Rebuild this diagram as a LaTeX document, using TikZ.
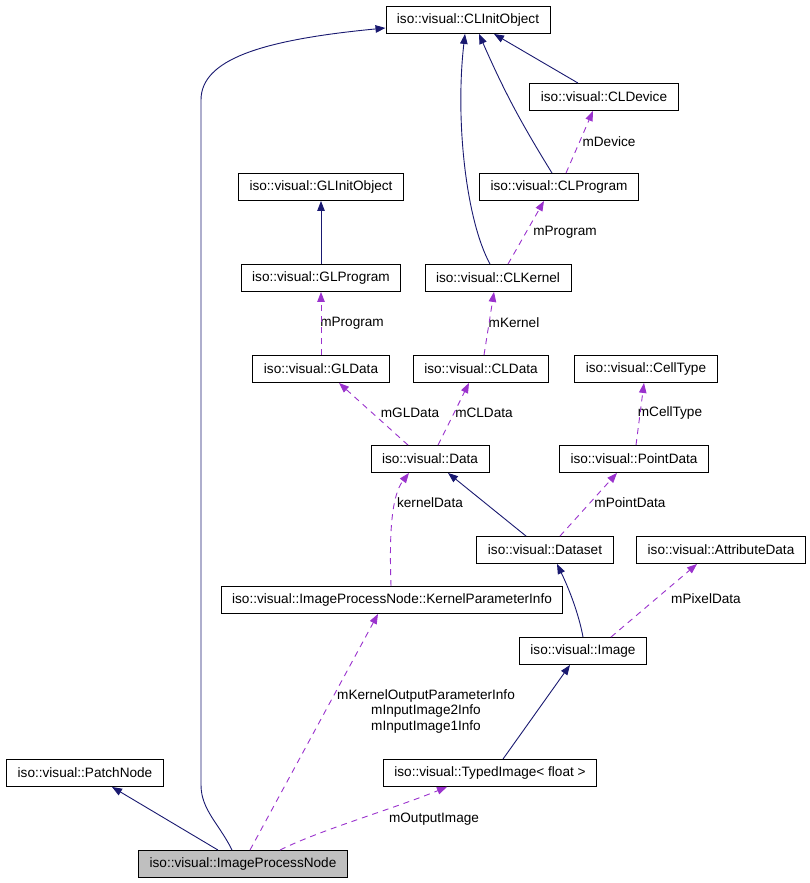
\documentclass[tikz,border=0pt]{standalone}
\usepackage{fontspec}
\setmainfont{Liberation Sans}
\usepackage{tikz}
\usetikzlibrary{arrows.meta,positioning,calc}
\definecolor{inhcol}{HTML}{191970}
\definecolor{memcol}{HTML}{9A32CD}
\definecolor{curcol}{HTML}{BFBFBF}
\tikzstyle{block} = [rectangle, draw, line width=0.9pt, inner xsep=11pt, inner ysep=0pt, minimum height=27pt, font=\fontsize{13.6}{16}\selectfont]
\tikzstyle{lbl} = [inner sep=0pt, font=\fontsize{13.6}{15.5}\selectfont, align=center]
\tikzset{inherit/.style = {
    line width=0.9pt, color=inhcol,
    -{Triangle[length=10pt,width=7.5pt]},
  },
  member/.style = {
    line width=0.9pt, color=memcol, dash pattern=on 6pt off 5pt,
    -{Triangle[length=10pt,width=7.5pt]},
  }
}

\begin{document}
\begin{tikzpicture}[x=1pt,y=-1pt]
            \useasboundingbox (0,0) rectangle (809,883);
            % vertices
            \node[block] (clinit) at (468,20) {iso::visual::CLInitObject};
            \node[block] (cldevice) at (604,97) {iso::visual::CLDevice};
            \node[block] (glinit) at (321,187) {iso::visual::GLInitObject};
            \node[block] (clprog) at (559,187) {iso::visual::CLProgram};
            \node[block] (glprog) at (321,278) {iso::visual::GLProgram};
            \node[block] (clkernel) at (498,278) {iso::visual::CLKernel};
            \node[block] (gldata) at (321,369) {iso::visual::GLData};
            \node[block] (cldata) at (481,369) {iso::visual::CLData};
            \node[block] (celltype) at (646,369) {iso::visual::CellType};
            \node[block] (data) at (430,459) {iso::visual::Data};
            \node[block] (pointdata) at (634,459) {iso::visual::PointData};
            \node[block] (dataset) at (545,550) {iso::visual::Dataset};
            \node[block] (attrdata) at (721,550) {iso::visual::AttributeData};
            \node[block] (kpinfo) at (392,600) {iso::visual::ImageProcessNode::KernelParameterInfo};
            \node[block] (image) at (583,651) {iso::visual::Image};
            \node[block] (patch) at (85,773) {iso::visual::PatchNode};
            \node[block] (typed) at (490,773) {iso::visual::TypedImage< float >};
            \node[block, fill=curcol] (ipn) at (243,864) {iso::visual::ImageProcessNode};

            % edge labels
            \node[lbl] (lmdevice) at (609,142) {mDevice};
            \node[lbl] (lmprogcl) at (565,232) {mProgram};
            \node[lbl] (lmproggl) at (352,323) {mProgram};
            \node[lbl] (lmkernel) at (514,323) {mKernel};
            \node[lbl] (lmgldata) at (410,413) {mGLData};
            \node[lbl] (lmcldata) at (484,413) {mCLData};
            \node[lbl] (lmcelltype) at (670,413) {mCellType};
            \node[lbl] (lkerneldata) at (430,503) {kernelData};
            \node[lbl] (lmpointdata) at (630,503) {mPointData};
            \node[lbl] (lmpixeldata) at (706,599) {mPixelData};
            \node[lbl] (lkpinfo) at (426,711) {mKernelOutputParameterInfo\\mInputImage2Info\\mInputImage1Info};
            \node[lbl] (lmoutput) at (434,819) {mOutputImage};

            %edges
            \draw[inherit] ([xshift=-25pt]ipn.north) -- ([xshift=27pt]patch.south);
            \draw[inherit] ([xshift=-11pt]ipn.north) .. controls (220,825) and (201,810) .. (201,785)
                -- (201,100) .. controls (201,60) and (260,40) .. ([yshift=-8pt]clinit.west);
            \draw[member] ([xshift=7pt]ipn.north) -- ([xshift=-14pt]kpinfo.south);
            \draw[member] ([xshift=37pt]ipn.north) .. controls (320,830) and (390,810) .. ([xshift=-43pt]typed.south);
            \draw[inherit] ([xshift=13pt]typed.north) -- ([xshift=-13pt]image.south);
            \draw[inherit] (image.north) .. controls (580,620) and (572,595) .. ([xshift=12pt]dataset.south);
            \draw[member] ([xshift=28pt]image.north) -- ([xshift=-24pt]attrdata.south);
            \draw[inherit] ([xshift=-19pt]dataset.north) -- ([xshift=18pt]data.south);
            \draw[member] ([xshift=15pt]dataset.north) -- ([xshift=-17pt]pointdata.south);
            \draw[member] ([xshift=-1pt]kpinfo.north) .. controls (389,530) and (392,495) .. ([xshift=-21pt]data.south);
            \draw[member] ([xshift=-22pt]data.north) -- ([xshift=18pt]gldata.south);
            \draw[member] ([xshift=8pt]data.north) -- ([xshift=-12pt]cldata.south);
            \draw[member] ([xshift=2pt]pointdata.north) -- ([xshift=-2pt]celltype.south);
            \draw[member] (gldata.north) -- (glprog.south);
            \draw[member] ([xshift=3pt]cldata.north) -- ([xshift=-4pt]clkernel.south);
            \draw[inherit] (glprog.north) -- (glinit.south);
            \draw[inherit] ([xshift=-8pt]clkernel.north) .. controls (466,220) and (455,120) .. ([xshift=-3pt]clinit.south);
            \draw[member] ([xshift=10pt]clkernel.north) -- ([xshift=-15pt]clprog.south);
            \draw[inherit] ([xshift=-7pt]clprog.north) to[bend left=4] ([xshift=11pt]clinit.south);
            \draw[inherit] ([xshift=-26pt]cldevice.north) -- ([xshift=26pt]clinit.south);
            \draw[member] ([xshift=7pt]clprog.north) -- ([xshift=-11pt]cldevice.south);

\end{tikzpicture}
\end{document}
